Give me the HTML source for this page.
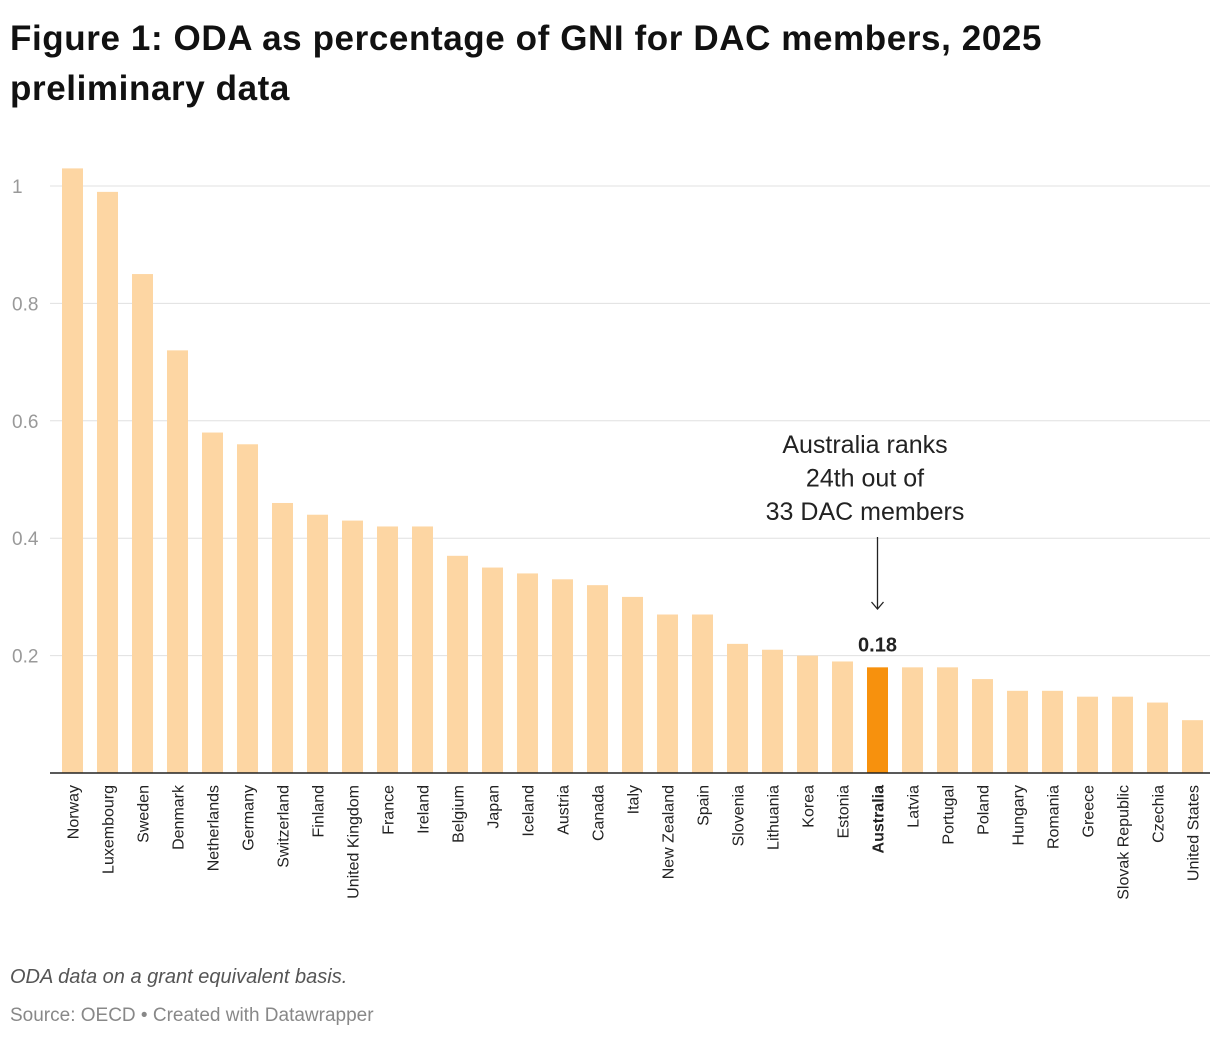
<!DOCTYPE html>
<html><head><meta charset="utf-8">
<style>
body{margin:0;background:#fff;font-family:"Liberation Sans",sans-serif;}
#wrap{position:relative;width:1220px;height:1042px;overflow:hidden;}
h1{position:absolute;left:10px;top:14px;margin:0;font-size:35px;line-height:50px;font-weight:bold;color:#111;width:1210px;letter-spacing:0.6px;}
.note{position:absolute;left:10px;top:966px;font-size:20px;font-style:italic;color:#555;}
.src{position:absolute;left:10px;top:1005px;font-size:19px;color:#888;}
</style></head><body>
<div id="wrap">
<h1>Figure 1: ODA as percentage of GNI for DAC members, 2025<br>preliminary data</h1>
<svg id="chart" width="1220" height="1042" style="position:absolute;left:0;top:0"></svg>
<div class="note">ODA data on a grant equivalent basis.</div>
<div class="src">Source: OECD • Created with Datawrapper</div>
</div>
<script>
const categories=["Norway","Luxembourg","Sweden","Denmark","Netherlands","Germany","Switzerland","Finland","United Kingdom","France","Ireland","Belgium","Japan","Iceland","Austria","Canada","Italy","New Zealand","Spain","Slovenia","Lithuania","Korea","Estonia","Australia","Latvia","Portugal","Poland","Hungary","Romania","Greece","Slovak Republic","Czechia","United States"];
const values=[1.03,0.99,0.85,0.72,0.58,0.56,0.46,0.44,0.43,0.42,0.42,0.37,0.35,0.34,0.33,0.32,0.30,0.27,0.27,0.22,0.21,0.20,0.19,0.18,0.18,0.18,0.16,0.14,0.14,0.13,0.13,0.12,0.09];
const yTicks=[0.2,0.4,0.6,0.8,1];
const yTickLabels=["0.2","0.4","0.6","0.8","1"];
const highlight="Australia";
const svg=document.getElementById('chart');
const NS="http://www.w3.org/2000/svg";
const x0=55,x1=1210,yBase=773,yTop=186;
const y=v=>yBase-(v/1)*(yBase-yTop);
const step=(x1-x0)/categories.length;
const xc=i=>x0+step*(i+0.5);
function mk(t,a){const e=document.createElementNS(NS,t);for(const k in a)e.setAttribute(k,a[k]);svg.appendChild(e);return e;}
yTicks.forEach((t,i)=>{
 const g=mk('line',{x1:50,x2:x1,y1:y(t),y2:y(t),stroke:'#e0e0e0','stroke-width':1});
 
 
 const l=mk('text',{x:12,y:y(t)+7,'font-size':19,fill:'#999'});
 l.textContent=yTickLabels[i];
 
 
});
const bw=21;
categories.forEach((c,i)=>{
 const hi=c===highlight;
 const r=mk('rect',{x:xc(i)-bw/2,y:y(values[i]),width:bw,height:yBase-y(values[i]),fill:hi?'#f7910d':'#fdd6a3'});
 
 
 const t=mk('text',{x:0,y:0,'font-size':16,fill:'#222','text-anchor':'end','font-weight':hi?'bold':'normal',transform:`translate(${xc(i)+6},${yBase+12}) rotate(-90)`});
 t.textContent=c;
 
 
 if(hi){
  const v=mk('text',{x:xc(i),y:y(values[i])-16,'font-size':20,'font-weight':'bold','text-anchor':'middle',fill:'#222'});
  v.textContent=values[i].toFixed(2);
  
  
  const a=mk('line',{x1:xc(i),x2:xc(i),y1:537,y2:608,stroke:'#222','stroke-width':1.3});
  
  
  const h=mk('path',{d:`M${xc(i)-6},${602} L${xc(i)},${609} L${xc(i)+6},${602}`,fill:'none',stroke:'#222','stroke-width':1.3});
  
  
  ["Australia ranks","24th out of","33 DAC members"].forEach((s,k)=>{
   const tx=mk('text',{x:865,y:453+k*33.5,'font-size':25,'text-anchor':'middle',fill:'#222'});
   tx.textContent=s;
   
   
  });
 }
});
const ax=mk('line',{x1:50,x2:x1,y1:yBase,y2:yBase,stroke:'#222','stroke-width':1.5});


</script>
</body></html>
